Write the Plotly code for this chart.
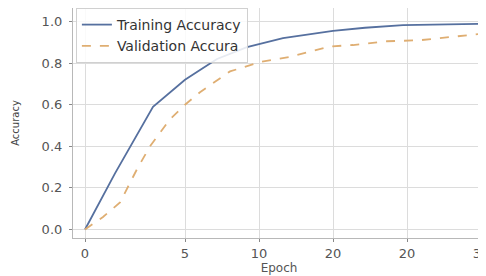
import plotly.graph_objects as go

# x positions (axis units), tick labels as shown in the chart
tick_pos = [0, 5, 8.7, 12.4, 16.1, 19.8]
tick_labels = ["0", "5", "10", "20", "20", "35"]

train_x = [0, 1.5, 3.4, 5, 5.75, 6.6, 8.1, 9.9, 12.4, 14.0, 15.9, 19.8, 20.2]
train_y = [0, 0.27, 0.59, 0.72, 0.767, 0.82, 0.877, 0.92, 0.955, 0.97, 0.983, 0.99, 0.99]

val_x = [0, 0.9, 1.75, 2.6, 3.25, 4.25, 5, 5.75, 7.25, 8.75, 10.25, 12.25, 13.4, 15.1, 16.75, 18.4, 19.8, 20.2]
val_y = [0, 0.06, 0.13, 0.29, 0.40, 0.53, 0.60, 0.66, 0.76, 0.805, 0.83, 0.88, 0.887, 0.905, 0.91, 0.925, 0.94, 0.945]

fig = go.Figure()
fig.add_trace(go.Scatter(x=train_x, y=train_y, mode="lines", name="Training Accuracy",
                         line=dict(color="#56709f", width=1.8)))
fig.add_trace(go.Scatter(x=val_x, y=val_y, mode="lines", name="Validation Accura",
                         line=dict(color="#dfae72", width=1.8, dash="dash")))

axis_common = dict(showgrid=True, gridcolor="#dcdcdc", gridwidth=1, zeroline=False,
                   showline=True, linecolor="#b8b8b8", linewidth=1.2, mirror=True,
                   ticks="outside", ticklen=3, tickcolor="#888", automargin=False,
                   tickfont=dict(family="DejaVu Sans", size=13, color="#555"))

fig.update_layout(
    width=486, height=276,
    margin=dict(l=65, r=9, t=0, b=46),
    paper_bgcolor="white", plot_bgcolor="white",
    xaxis=dict(range=[-0.6, 20.0], tickvals=tick_pos, ticktext=tick_labels,
               title=dict(text="Epoch", font=dict(family="DejaVu Sans", size=12, color="#555"), standoff=2),
               **axis_common),
    yaxis=dict(range=[-0.041, 1.065], tickvals=[0, 0.2, 0.4, 0.6, 0.8, 1.0],
               tickformat=".1f", ticklabelstandoff=4,
               title=dict(text="Accuracy", font=dict(family="DejaVu Sans", size=10, color="#444"), standoff=20),
               **axis_common),
    legend=dict(x=0.007, y=1.0, xanchor="left", yanchor="top",
                bgcolor="rgba(255,255,255,0.85)", bordercolor="#d0d0d0", borderwidth=1,
                font=dict(family="DejaVu Sans", size=14, color="#333"), tracegroupgap=0),
    showlegend=True,
)

fig.write_html("out.html")
